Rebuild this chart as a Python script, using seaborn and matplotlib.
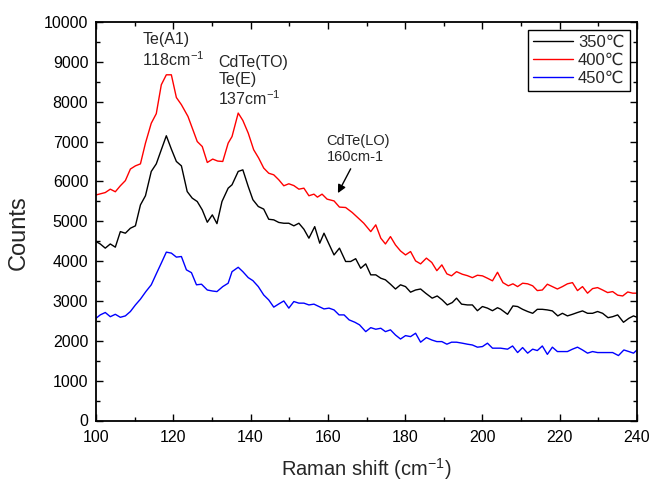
import numpy as np
import pandas as pd
import matplotlib
matplotlib.use("Agg")
import matplotlib.pyplot as plt
import seaborn as sns
from matplotlib.ticker import MultipleLocator
from matplotlib.lines import Line2D

# ---------------- data ----------------
labels = ["350\u2103", "400\u2103", "450\u2103"]
colors = ["#000000", "#ff0000", "#0000ff"]

x_350 = [100.0, 101.1, 102.4, 103.7, 105.0, 106.3, 107.6, 108.9, 110.2, 111.5, 112.8, 114.3, 115.6, 116.9,
         118.2, 119.5, 120.8, 122.1, 123.6, 124.9, 126.2, 127.5, 128.8, 130.1, 131.3, 132.6, 134.2, 135.2,
         136.8, 138.0, 139.4, 140.6, 142.0, 143.4, 144.7, 146.0, 147.3, 148.6, 149.9, 151.2, 152.5, 153.8,
         155.1, 156.6, 157.9, 159.0, 160.3, 161.6, 163.0, 164.6, 165.9, 167.2, 168.5, 169.8, 171.1, 172.4,
         173.7, 174.9, 176.2, 177.5, 178.8, 180.1, 181.4, 182.7, 184.0, 185.3, 187.0, 188.3, 189.6, 190.9,
         192.2, 193.3, 194.6, 196.1, 197.4, 198.7, 200.0, 201.3, 202.6, 203.9, 204.7, 206.5, 207.9, 209.1,
         210.4, 211.7, 213.0, 214.2, 215.5, 216.8, 218.1, 219.5, 220.7, 222.0, 223.3, 224.6, 225.9, 227.2,
         228.5, 229.8, 231.1, 232.5, 233.7, 235.0, 236.5, 237.9, 239.1, 240.0]
y_350 = [4490, 4430, 4325, 4430, 4350, 4740, 4700, 4825, 4885, 5410, 5640, 6250, 6440, 6795,
         7145, 6810, 6500, 6390, 5745, 5580, 5495, 5285, 4975, 5160, 4940, 5495, 5830, 5915,
         6250, 6290, 5870, 5540, 5370, 5305, 5050, 5035, 4970, 4950, 4950, 4885, 4950, 4800,
         4575, 4865, 4450, 4700, 4425, 4155, 4325, 3990, 3990, 4060, 3820, 3930, 3655, 3655,
         3570, 3530, 3420, 3300, 3405, 3360, 3220, 3275, 3300, 3195, 3070, 3125, 3025, 2900,
         2960, 3070, 2920, 2900, 2900, 2755, 2860, 2820, 2755, 2830, 2795, 2665, 2875, 2860,
         2790, 2735, 2690, 2790, 2790, 2775, 2750, 2625, 2690, 2625, 2665, 2710, 2750, 2690,
         2690, 2735, 2690, 2580, 2605, 2650, 2465, 2565, 2625, 2590]

x_400 = [100.0, 102.4, 103.7, 105.0, 106.3, 107.6, 108.9, 110.2, 111.5, 112.8, 114.3, 115.6, 116.9, 118.2,
         119.5, 120.8, 122.1, 123.8, 126.2, 127.5, 128.8, 130.2, 131.5, 132.8, 134.2, 135.2, 136.8, 138.0,
         139.4, 140.8, 142.1, 143.4, 144.7, 146.0, 147.3, 148.6, 149.9, 151.2, 152.5, 153.8, 155.1, 156.4,
         157.3, 158.5, 159.8, 161.6, 163.0, 164.6, 166.3, 168.2, 169.3, 171.1, 172.4, 173.7, 174.9, 176.2,
         177.5, 178.8, 180.1, 181.4, 182.7, 184.0, 185.5, 186.9, 188.2, 189.5, 190.8, 192.0, 193.3, 194.8,
         196.1, 197.4, 198.7, 200.0, 201.3, 202.6, 203.9, 205.3, 206.7, 207.9, 209.1, 210.4, 211.7, 213.0,
         214.2, 215.5, 216.8, 218.1, 219.4, 220.7, 222.0, 223.3, 224.6, 225.9, 227.2, 228.5, 229.8, 231.1,
         232.4, 233.7, 235.0, 236.3, 237.6, 238.9, 240.0]
y_400 = [5660, 5720, 5805, 5740, 5890, 6020, 6310, 6390, 6440, 6960, 7460, 7700, 8425, 8675,
         8675, 8105, 7925, 7630, 7000, 6875, 6475, 6560, 6510, 6500, 6960, 7125, 7715, 7530,
         7210, 6795, 6585, 6335, 6205, 6165, 6040, 5890, 5940, 5895, 5805, 5830, 5640, 5680,
         5605, 5680, 5555, 5510, 5355, 5345, 5220, 5050, 4950, 4740, 4910, 4575, 4430, 4615,
         4405, 4255, 4155, 4240, 4005, 3930, 4075, 3965, 3760, 3905, 3680, 3630, 3735, 3670,
         3635, 3585, 3645, 3630, 3570, 3505, 3720, 3460, 3380, 3430, 3360, 3445, 3430, 3380,
         3260, 3275, 3420, 3360, 3300, 3360, 3430, 3460, 3260, 3360, 3195, 3310, 3335, 3275,
         3210, 3235, 3145, 3125, 3225, 3195, 3195]

x_450 = [100.0, 101.1, 102.4, 103.7, 105.0, 106.3, 107.6, 108.9, 110.2, 111.5, 112.9, 114.3, 115.6, 116.9,
         118.2, 119.5, 120.8, 122.1, 123.4, 124.7, 126.0, 127.3, 128.8, 130.1, 131.3, 132.8, 134.2, 135.2,
         136.8, 138.0, 139.4, 140.6, 142.0, 143.4, 144.7, 146.0, 147.3, 148.6, 149.9, 151.2, 152.5, 153.8,
         155.1, 156.4, 157.7, 159.0, 160.3, 161.6, 162.9, 164.2, 165.5, 167.0, 168.2, 169.8, 171.1, 172.4,
         173.7, 174.9, 176.2, 177.5, 178.8, 180.1, 181.4, 182.7, 184.0, 185.5, 186.9, 188.2, 189.5, 190.8,
         192.0, 193.3, 194.8, 196.1, 197.4, 198.7, 200.0, 201.3, 202.6, 204.7, 206.5, 207.8, 209.1, 210.4,
         211.7, 213.0, 214.2, 215.5, 216.8, 218.1, 219.4, 222.0, 223.3, 224.6, 225.9, 227.2, 228.5, 229.8,
         233.7, 235.2, 236.6, 237.9, 239.1, 240.0]
y_450 = [2565, 2650, 2710, 2605, 2665, 2590, 2625, 2735, 2900, 3045, 3235, 3405, 3680, 3950,
         4225, 4200, 4100, 4115, 3780, 3710, 3405, 3420, 3275, 3250, 3235, 3360, 3445, 3735,
         3845, 3735, 3585, 3510, 3360, 3150, 3025, 2845, 2925, 3000, 2820, 2985, 2945, 2945,
         2900, 2920, 2860, 2800, 2820, 2775, 2650, 2650, 2525, 2465, 2400, 2230, 2330, 2290,
         2315, 2230, 2275, 2145, 2045, 2130, 2105, 2190, 1965, 2080, 2020, 1980, 1980, 1915,
         1965, 1965, 1940, 1915, 1895, 1840, 1855, 1940, 1815, 1815, 1790, 1870, 1705, 1830,
         1690, 1790, 1755, 1870, 1660, 1840, 1730, 1730, 1790, 1840, 1770, 1690, 1730, 1705,
         1705, 1630, 1770, 1730, 1690, 1770]

xticks = [100, 120, 140, 160, 180, 200, 220, 240]
yticks = [0, 1000, 2000, 3000, 4000, 5000, 6000, 7000, 8000, 9000, 10000]

df = pd.concat([
    pd.DataFrame({"shift": x_350, "counts": y_350, "T": labels[0]}),
    pd.DataFrame({"shift": x_400, "counts": y_400, "T": labels[1]}),
    pd.DataFrame({"shift": x_450, "counts": y_450, "T": labels[2]}),
], ignore_index=True)

# ---------------- style ----------------
sns.set_theme(style="ticks")
plt.rcParams["font.family"] = ["Liberation Sans", "DejaVu Sans"]
plt.rcParams["mathtext.fontset"] = "custom"
plt.rcParams["mathtext.rm"] = "Liberation Sans"
plt.rcParams["mathtext.it"] = "Liberation Sans:italic"
plt.rcParams["mathtext.default"] = "regular"

fig = plt.figure(figsize=(6.52, 4.82), dpi=100)
ax = fig.add_axes([96 / 652, 1 - 420.5 / 482, (637 - 96) / 652, (420.5 - 22) / 482])

sns.lineplot(data=df, x="shift", y="counts", hue="T", hue_order=labels,
             palette=dict(zip(labels, colors)), estimator=None, sort=True,
             linewidth=1.0, ax=ax, legend=False)

ax.set_xlim(100, 240)
ax.set_ylim(0, 10000)
ax.set_xticks(xticks)
ax.set_yticks(yticks)
ax.xaxis.set_minor_locator(MultipleLocator(10))
ax.yaxis.set_minor_locator(MultipleLocator(500))
ax.tick_params(which="both", direction="in", top=True, right=True, colors="black",
               labelsize=11.5, width=1.0)
ax.tick_params(which="major", length=5)
ax.tick_params(which="minor", length=3)
ax.tick_params(axis="x", pad=7)
ax.tick_params(axis="y", pad=5.5)
for s in ax.spines.values():
    s.set_linewidth(1.3)
    s.set_color("black")

ax.set_xlabel("Raman shift (cm$^{-1}$)", fontsize=14.5, labelpad=8)
ax.set_ylabel("Counts", fontsize=17)
ax.yaxis.set_label_coords(-0.122, 0.472)

# legend
handles = [Line2D([], [], color=c, lw=1.0) for c in colors]
leg = ax.legend(handles, labels, loc="upper right", fontsize=12, frameon=True,
                fancybox=False, edgecolor="black", framealpha=1,
                handlelength=2.4, handletextpad=0.3, labelspacing=0.2,
                borderpad=0.3, borderaxespad=0.45)
leg.get_frame().set_linewidth(1.0)

# annotations
fs = 11.5
ax.text(112.0, 9450, "Te(A1)", fontsize=fs, va="baseline")
ax.text(112.0, 8885, "118cm$^{-1}$", fontsize=fs, va="baseline")
ax.text(131.7, 8877, "CdTe(TO)", fontsize=fs, va="baseline")
ax.text(131.7, 8440, "Te(E)", fontsize=fs, va="baseline")
ax.text(131.7, 7925, "137cm$^{-1}$", fontsize=fs, va="baseline")
ax.text(159.7, 6920, "CdTe(LO)", fontsize=10.5, va="baseline")
ax.text(159.7, 6500, "160cm-1", fontsize=10.5, va="baseline")
ax.annotate("", xy=(162.6, 5706), xytext=(165.9, 6316),
            arrowprops=dict(arrowstyle="-|>", color="black", lw=1.0,
                            mutation_scale=12, shrinkA=0, shrinkB=0))

fig.savefig("out.png", dpi=100)
